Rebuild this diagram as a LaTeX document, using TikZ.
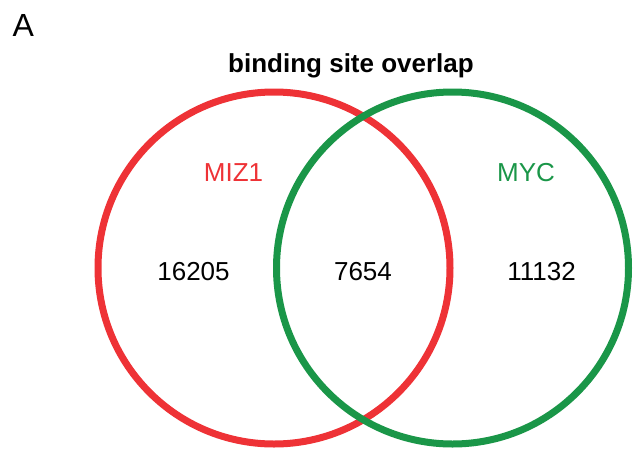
\documentclass[tikz,border=0pt]{standalone}
\usepackage{fontspec}
\setmainfont{Liberation Sans}
\definecolor{mizred}{RGB}{238,50,54}
\definecolor{mycgreen}{RGB}{26,150,72}
\begin{document}
\begin{tikzpicture}[x=1pt,y=-1pt,
  lbl/.style={inner sep=0pt,anchor=base,font=\fontsize{26}{30}\selectfont},
  ring/.style={line width=7pt}]
\useasboundingbox (0,0) rectangle (635,448);
% panel letter and heading
\node[inner sep=0pt,anchor=base west,font=\fontsize{32}{36}\selectfont] (panel) at (12.5,36) {A};
\node[lbl,font=\fontsize{26}{30}\selectfont\bfseries] (title) at (351,72) {binding site overlap};
% the two sets
\node[circle,draw=mizred,ring,minimum size=352pt,inner sep=0pt] (miz) at (274,268) {};
\node[circle,draw=mycgreen,ring,minimum size=352pt,inner sep=0pt] (myc) at (452.5,268) {};
% set names
\node[lbl,text=mizred] (mizname) at (233.5,181.5) {MIZ1};
\node[lbl,text=mycgreen] (mycname) at (526,181.5) {MYC};
% counts
\node[lbl] (onlymiz) at (193.5,280) {16205};
\node[lbl] (both) at (363,280) {7654};
\node[lbl] (onlymyc) at (541.5,280) {11132};
\end{tikzpicture}
\end{document}
